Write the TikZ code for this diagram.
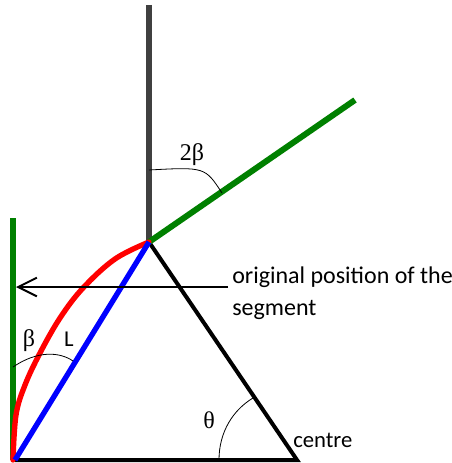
\documentclass[tikz,border=0pt]{standalone}
\usepackage{fontspec}
\setmainfont{Carlito}
\newfontfamily\grk{Liberation Serif}
\usetikzlibrary{arrows.meta}
\definecolor{grey1}{RGB}{64,64,64}
\definecolor{green1}{RGB}{0,128,0}

\begin{document}
\begin{tikzpicture}[x=0.75pt, y=-0.75pt,
    axis/.style={draw=grey1, line width=5pt},
    wall/.style={draw=green1, line width=4.5pt},
    frame/.style={draw=black, line width=3pt, line join=miter},
    chord/.style={draw=blue, line width=4pt},
    bent/.style={draw=red, line width=4pt, line cap=round},
    anglearc/.style={draw=black, line width=0.6pt},
    posarrow/.style={-{Straight Barb[length=14pt, width=14pt, line width=1.5pt]}, line width=1.5pt},
    label/.style={inner sep=0pt, font=\fontsize{17}{24}\selectfont},
    greek/.style={inner sep=0pt, font=\grk\fontsize{18}{22}\selectfont}
]
    \useasboundingbox (0,0) rectangle (452,463);

    % points of the figure
    \coordinate (apex) at (149,242);
    \coordinate (top) at (149,5);
    \coordinate (tip) at (355,100);
    \coordinate (wallTop) at (13,218);
    \coordinate (wallBot) at (13,460);
    \coordinate (base) at (15,460);
    \coordinate (centre) at (297,460);
    \coordinate (arrowStart) at (228,287);
    \coordinate (arrowEnd) at (16,287);

    \draw[frame] (base) -- (centre) -- (apex);
    \draw[axis] (top) -- (apex);
    \draw[wall] (apex) -- (tip);
    \draw[wall] (wallTop) -- (wallBot);

    \draw[bent] plot[smooth, tension=0.6] coordinates
        {(wallBot) (16,415) (25,385) (40,353) (60,318) (83,288) (115,259) (apex)};
    \draw[chord] (base) -- (apex);

    % angles
    \draw[anglearc] (149,170) .. controls (205,167) .. (222,193);
    \draw[anglearc] (13,367) .. controls (38,350) and (60,352) .. (73,361);
    \draw[anglearc] (219,460) .. controls (219,432) and (233,410) .. (253,398);

    \draw[posarrow] (arrowStart) -- (arrowEnd);

    \node[label, font=\fontsize{18}{24}\selectfont, anchor=west, align=left, name=orig] at (232,293)
        {original position of the\\segment};
    \node[greek, name=twobeta] at (192,155) {2β};
    \node[greek, name=beta] at (29,341) {β};
    \node[label, name=len] at (69,339) {L};
    \node[greek, name=theta] at (209,420) {θ};
    \node[label, anchor=base west, name=ctr] at (293,447) {centre};
\end{tikzpicture}
\end{document}
